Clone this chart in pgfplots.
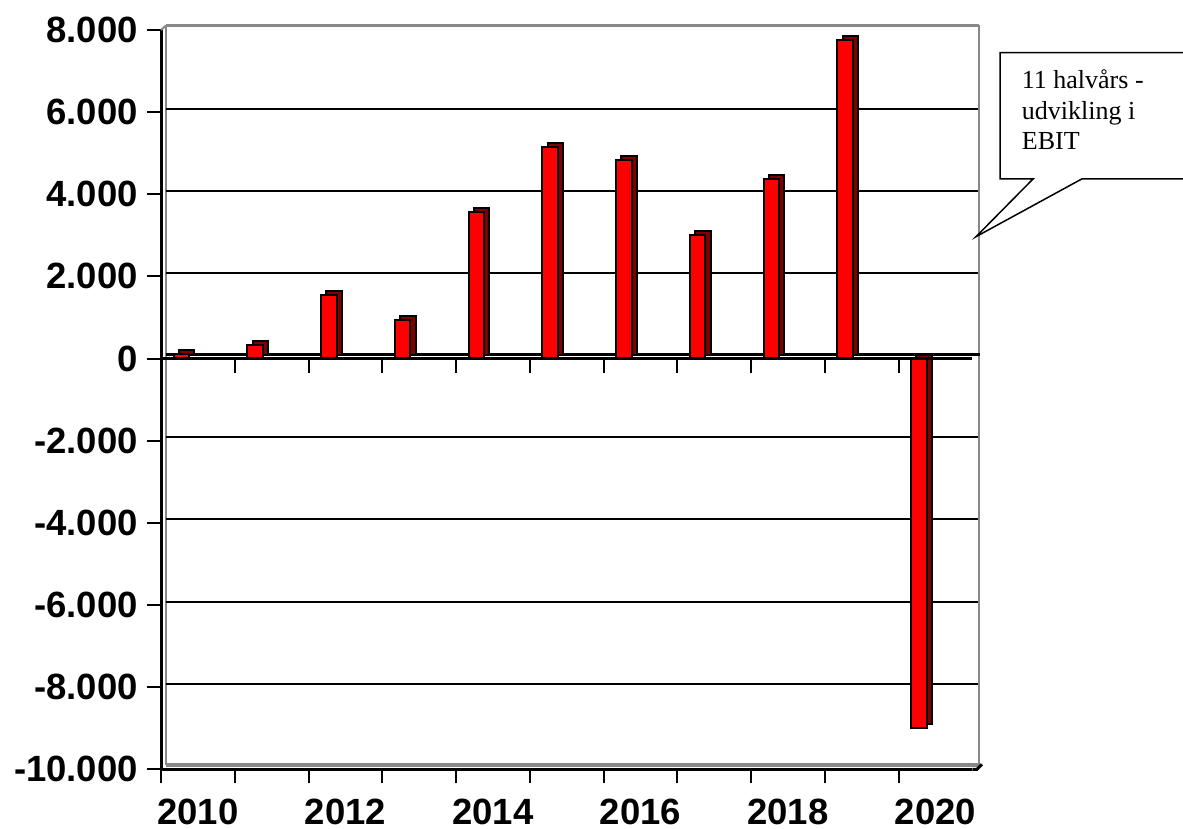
\documentclass[border=0pt]{standalone}
\usepackage{fontspec}
\setmainfont{Liberation Serif}
\newfontfamily\arialfont{Liberation Sans}
\usepackage{pgfplots}
\pgfplotsset{compat=1.18}
\definecolor{barred}{RGB}{255,0,0}
\definecolor{bardark}{RGB}{128,0,0}
\definecolor{wallgray}{RGB}{136,136,136}
\newcommand\ticklab{\arialfont\bfseries\fontsize{36.5pt}{40pt}\selectfont}
\begin{document}
\begin{tikzpicture}
\useasboundingbox (0,0) rectangle (1183pt,829pt);
\begin{axis}[
  scale only axis, width=811.25pt, height=739.3pt,
  at={(161pt,59.7pt)}, anchor=south west,
  xmin=0, xmax=11, ymin=-10000, ymax=8000,
  clip=false, scaled y ticks=false, scaled x ticks=false,
  axis x line*=bottom, axis y line*=left,
  axis line style={black, line width=3pt},
  tick align=outside, major tick length=14pt,
  tick style={black, line width=2pt},
  xtick={0,...,10}, xticklabels={},
  extra x ticks={0.5,2.5,4.5,6.5,8.5,10.5},
  extra x tick labels={2010,2012,2014,2016,2018,2020},
  extra x tick style={major tick length=0pt,
    xticklabel style={font=\ticklab, anchor=north, inner sep=0pt, yshift=-30pt}},
  ytick={-10000,-8000,...,8000},
  yticklabels={-10.000,-8.000,-6.000,-4.000,-2.000,0,2.000,4.000,6.000,8.000},
  yticklabel style={font=\ticklab, anchor=east, inner sep=0pt, xshift=-9pt},
]
% back wall
\draw[wallgray, line width=2.5pt] ([xshift=5pt,yshift=4.5pt]axis cs:0,8000) -- ([xshift=7pt,yshift=4.5pt]axis cs:11,8000);
\draw[wallgray, line width=2.5pt] ([xshift=6.75pt,yshift=4.5pt]axis cs:11,8000) -- ([xshift=6.75pt,yshift=4pt]axis cs:11,-10000);
\draw[wallgray, line width=2.5pt] ([xshift=5pt,yshift=4.5pt]axis cs:0,8000) -- ([xshift=5pt,yshift=4pt]axis cs:0,-10000);
\draw[wallgray, line width=4pt] ([xshift=5pt,yshift=4.3pt]axis cs:0,-10000) -- ([xshift=8pt,yshift=4.3pt]axis cs:11,-10000);
\draw[wallgray, line width=2pt] (axis cs:0,8000) -- ([xshift=5pt,yshift=4.5pt]axis cs:0,8000);
\draw[black, line width=3pt] (axis cs:11,-10000) -- ([xshift=4.75pt]axis cs:11,-10000) -- ([xshift=9.75pt,yshift=5pt]axis cs:11,-10000);
% grid on back wall
\pgfplotsinvokeforeach{-8000,-6000,-4000,-2000,2000,4000,6000}{
  \draw[black, line width=2pt] ([xshift=5pt,yshift=3.5pt]axis cs:0,#1) -- ([xshift=5.5pt,yshift=3.5pt]axis cs:11,#1);
}
\draw[black, line width=2.5pt] ([xshift=5pt,yshift=4pt]axis cs:0,0) -- ([xshift=8pt,yshift=4pt]axis cs:11,0);
% bars: depth
\addplot[ybar, bar width=15.5pt, bar shift=0pt, fill=bardark, draw=black, line width=2pt, xshift=5.3pt, yshift=4pt]
  coordinates {(0.275,120) (1.275,330) (2.275,1550) (3.275,950) (4.275,3570) (5.275,5140) (6.275,4830) (7.275,3000) (8.275,4360) (9.275,7760) (10.275,-9000)};
% bars: front
\addplot[ybar, bar width=15.5pt, bar shift=0pt, fill=barred, draw=black, line width=2pt]
  coordinates {(0.275,120) (1.275,330) (2.275,1550) (3.275,950) (4.275,3570) (5.275,5140) (6.275,4830) (7.275,3000) (8.275,4360) (9.275,7760) (10.275,-9000)};
% front zero line and its ticks
\draw[black, line width=3pt] (axis cs:0,0) -- (axis cs:11,0);
\pgfplotsinvokeforeach{1,2,3,4,5,6,7,8,9,10}{
  \draw[black, line width=2pt] (axis cs:#1,0) -- ([yshift=-14pt]axis cs:#1,0);
}
\end{axis}
% callout
\draw[black, line width=1.5pt, fill=white] (1000pt,776.3pt) -- (1190pt,776.3pt) -- (1190pt,650pt) -- (1081.7pt,650pt) -- (976pt,592.3pt) -- (1033pt,650pt) -- (1000pt,650pt) -- cycle;
\node[anchor=base west, inner sep=0pt, align=left, font=\fontsize{26pt}{30.8pt}\selectfont] at (1021.7pt,679pt) {11 halvårs -\\udvikling i\\EBIT};
\end{tikzpicture}
\end{document}
